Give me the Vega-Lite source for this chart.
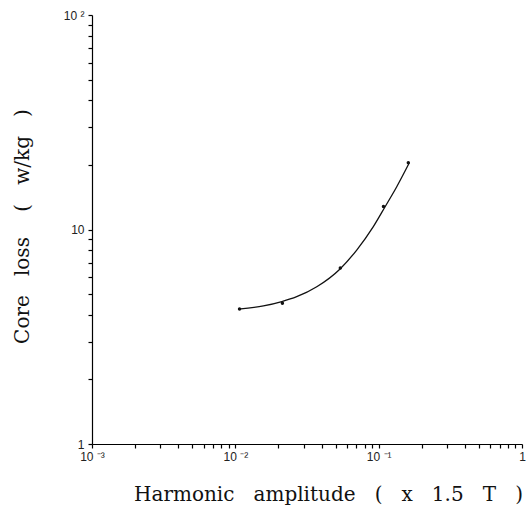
{
  "$schema": "https://vega.github.io/schema/vega-lite/v6.json",
  "width": 430,
  "height": 429,
  "autosize": "none",
  "padding": {"left": 92, "top": 15, "right": 4, "bottom": 72},
  "background": "white",
  "config": {"view": {"stroke": null}},
  "datasets": {
    "measured": [
      {"amp": 0.0107, "loss": 4.26},
      {"amp": 0.0213, "loss": 4.53},
      {"amp": 0.054, "loss": 6.61},
      {"amp": 0.108, "loss": 12.8},
      {"amp": 0.161, "loss": 20.5}
    ],
    "fitted": [
      {"amp": 0.0105, "loss": 4.25},
      {"amp": 0.0157, "loss": 4.40},
      {"amp": 0.0211, "loss": 4.61},
      {"amp": 0.0268, "loss": 4.86},
      {"amp": 0.037, "loss": 5.41},
      {"amp": 0.0538, "loss": 6.55},
      {"amp": 0.0703, "loss": 8.02},
      {"amp": 0.0918, "loss": 10.31},
      {"amp": 0.1109, "loss": 12.77},
      {"amp": 0.1337, "loss": 15.83},
      {"amp": 0.163, "loss": 20.35}
    ]
  },
  "encoding": {
    "x": {
      "field": "amp", "type": "quantitative",
      "scale": {"type": "log", "domain": [0.001, 1], "nice": false},
      "axis": {
        "title": "Harmonic\u00a0\u00a0 amplitude\u00a0\u00a0 (\u00a0\u00a0 x\u00a0\u00a0 1.5\u00a0\u00a0 T\u00a0\u00a0 )",
        "titleFont": "DejaVu Serif", "titleFontSize": 20, "titleFontWeight": "normal", "titleColor": "#111",
        "titleX": 236, "titleY": 56, "titleBaseline": "alphabetic",
        "values": [0.001,0.002,0.003,0.004,0.005,0.006,0.007,0.008,0.009,0.01,0.02,0.03,0.04,0.05,0.06,0.07,0.08,0.09,0.1,0.2,0.3,0.4,0.5,0.6,0.7,0.8,0.9,1],
        "labelExpr": "datum.value == 0.001 ? '10 ⁻³' : datum.value == 0.01 ? '10 ⁻²' : datum.value == 0.1 ? '10 ⁻¹' : datum.value == 1 ? '1' : ''",
        "labelFont": "Liberation Sans", "labelFontSize": 12, "labelColor": "#222",
        "labelFlush": false, "labelOverlap": false, "labelPadding": 3,
        "tickSize": 4, "tickColor": "#000", "tickWidth": 1.2, "domainColor": "#000", "domainWidth": 1.2, "grid": false
      }
    },
    "y": {
      "field": "loss", "type": "quantitative",
      "scale": {"type": "log", "domain": [1, 100], "nice": false},
      "axis": {
        "title": "Core\u00a0\u00a0 loss\u00a0\u00a0 \u00a0(\u00a0\u00a0 w/kg\u00a0\u00a0 )",
        "titleFont": "DejaVu Serif", "titleFontSize": 20, "titleFontWeight": "normal", "titleColor": "#111",
        "titleX": -60, "titleY": 211,
        "values": [1,2,3,4,5,6,7,8,9,10,20,30,40,50,60,70,80,90,100],
        "labelExpr": "datum.value == 1 ? '1' : datum.value == 10 ? '10' : datum.value == 100 ? '10 ²' : ''",
        "labelFont": "Liberation Sans", "labelFontSize": 12, "labelColor": "#222",
        "labelFlush": false, "labelOverlap": false, "labelPadding": 4,
        "tickSize": 4, "tickColor": "#000", "tickWidth": 1.2, "domainColor": "#000", "domainWidth": 1.2, "grid": false
      }
    }
  },
  "layer": [
    {"data": {"name": "fitted"}, "mark": {"type": "line", "interpolate": "monotone", "color": "#111", "strokeWidth": 1.3}},
    {"data": {"name": "measured"}, "mark": {"type": "point", "filled": true, "color": "#111", "size": 12, "opacity": 1}}
  ]
}
